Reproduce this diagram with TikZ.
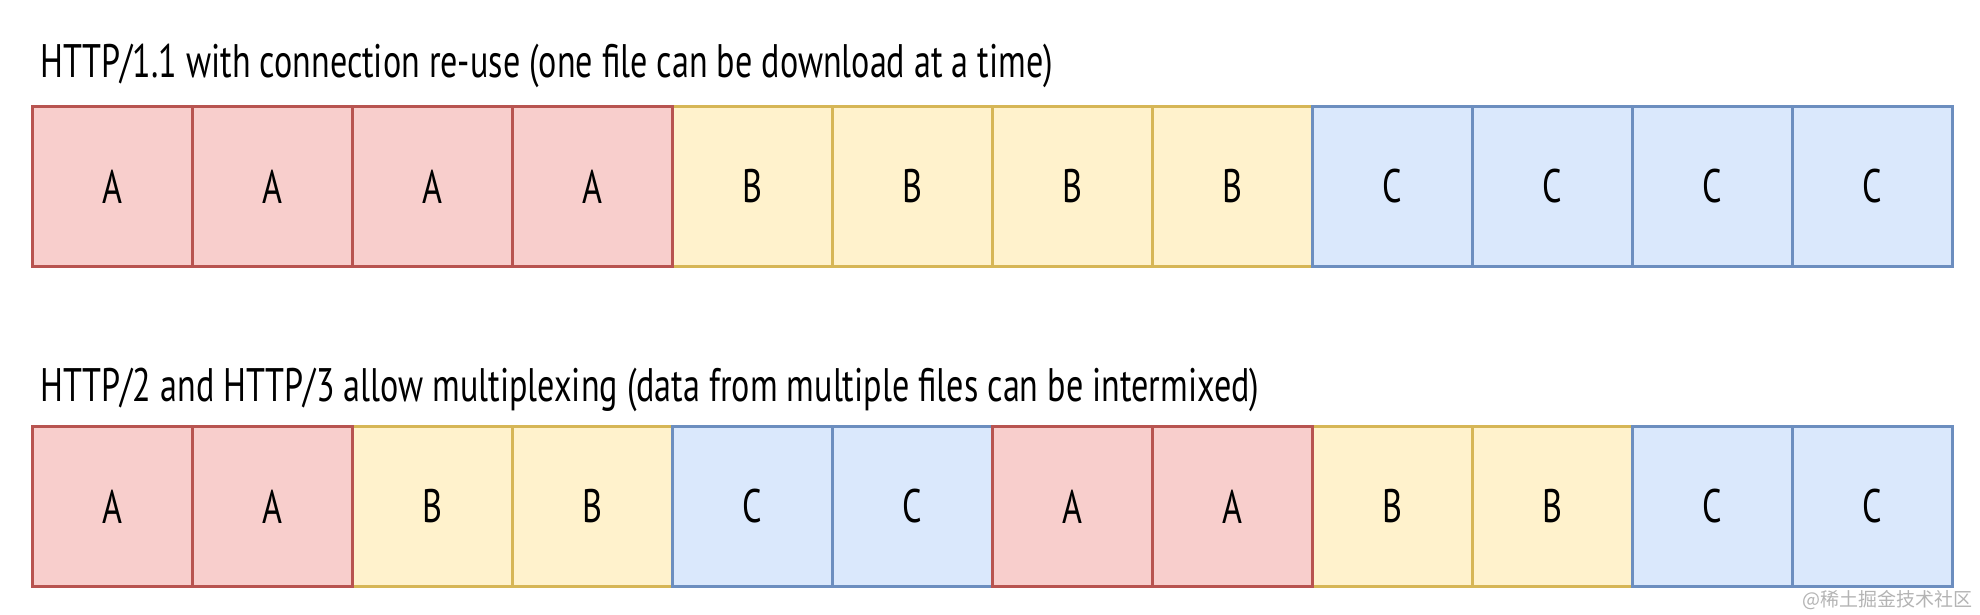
\documentclass[tikz,border=0pt]{standalone}
\usepackage{fontspec}
\setmainfont{PT Sans}
\newfontfamily\cjk{Noto Sans CJK SC}
\definecolor{redfill}{HTML}{F8CECC}
\definecolor{redline}{HTML}{B85450}
\definecolor{yelfill}{HTML}{FFF2CC}
\definecolor{yelline}{HTML}{D6B656}
\definecolor{blufill}{HTML}{DAE8FC}
\definecolor{bluline}{HTML}{6C8EBF}
\definecolor{wmgray}{HTML}{B4B4B4}
\newcommand\bigfont{\fontsize{47}{56}\selectfont}
\newsavebox\measurebox
\AtBeginDocument{%
  \sbox\measurebox{\bigfont HTTP/1.1 with connection re-use (one file can be download at a time)}%
  \pgfmathsetmacro\hx{1013/\the\wd\measurebox}%
  \global\let\hx\hx}
\begin{document}
\begin{tikzpicture}[x=1pt,y=-1pt,
  cell/.style={draw, line width=3pt, minimum width=160pt, minimum height=160pt, inner sep=0pt, font=\bigfont},
  redcell/.style={cell, fill=redfill, draw=redline},
  yelcell/.style={cell, fill=yelfill, draw=yelline},
  blucell/.style={cell, fill=blufill, draw=bluline},
  title/.style={anchor=base west, inner sep=0pt, font=\bigfont}]
\useasboundingbox (0,0) rectangle (1980,615);
\fill[white] (0,0) rectangle (1980,615);
\node[title] (title1) at (40,78) {\scalebox{\hx}[1]{HTTP/1.1 with connection re-use (one file can be download at a time)}};
\node[title] (title2) at (40,401) {\scalebox{\hx}[1]{HTTP/2 and HTTP/3 allow multiplexing (data from multiple files can be intermixed)}};
% top row
\foreach \i in {5,...,8} \node[yelcell] (t\i) at ({112+160*(\i-1)},186.5) {\scalebox{\hx}[1]{B}};
\foreach \i in {9,...,12} \node[blucell] (t\i) at ({112+160*(\i-1)},186.5) {\scalebox{\hx}[1]{C}};
\foreach \i in {1,...,4} \node[redcell] (t\i) at ({112+160*(\i-1)},186.5) {\scalebox{\hx}[1]{A}};
% bottom row
\foreach \i in {3,4,9,10} \node[yelcell] (b\i) at ({112+160*(\i-1)},506.5) {\scalebox{\hx}[1]{B}};
\foreach \i in {5,6,11,12} \node[blucell] (b\i) at ({112+160*(\i-1)},506.5) {\scalebox{\hx}[1]{C}};
\foreach \i in {1,2,7,8} \node[redcell] (b\i) at ({112+160*(\i-1)},506.5) {\scalebox{\hx}[1]{A}};
% watermark
\node[anchor=east, inner sep=0pt, text=wmgray, font=\cjk\fontsize{19}{22}\selectfont] (wm) at (1973,600) {@稀土掘金技术社区};
\end{tikzpicture}
\end{document}
